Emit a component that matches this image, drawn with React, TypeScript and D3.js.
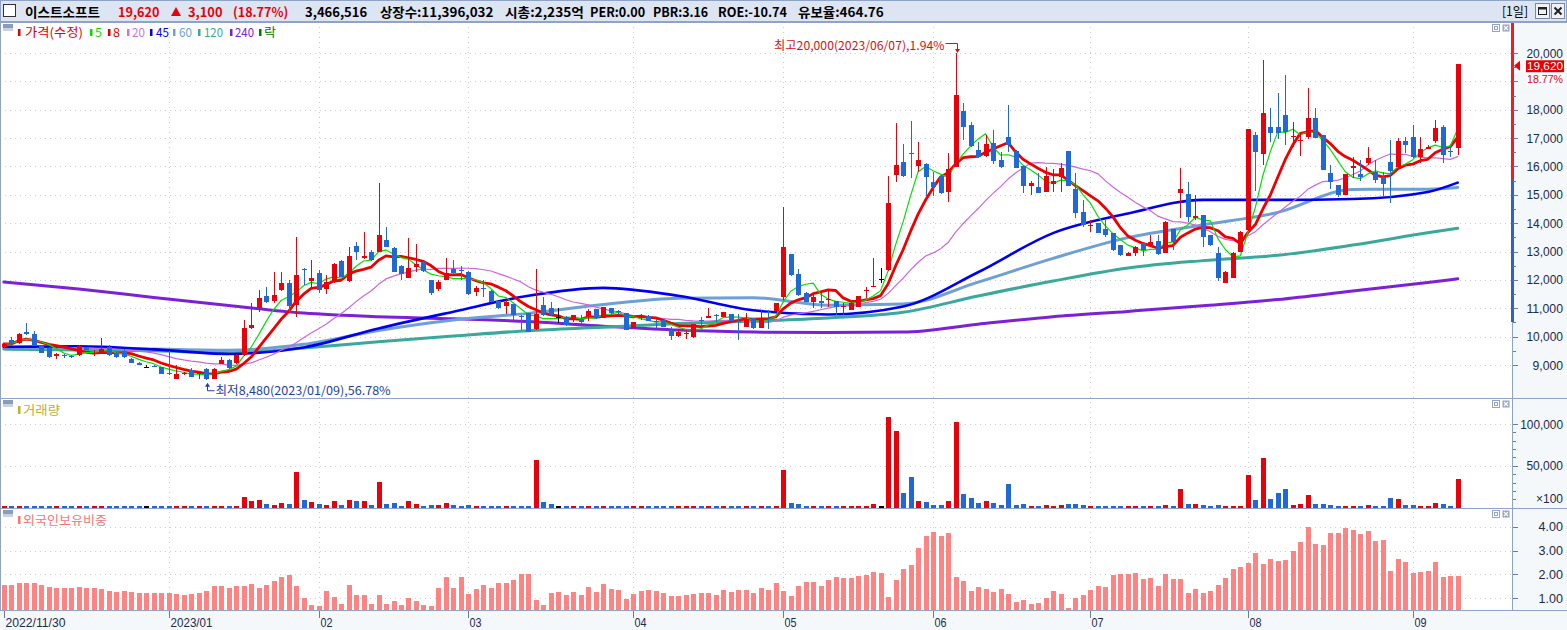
import * as d3 from "d3";

const W = 1567;
const H = 630;

// ---------- data ----------
const holidays = ["2022-12-30", "2023-01-23", "2023-01-24", "2023-03-01", "2023-05-01", "2023-05-05", "2023-05-29", "2023-06-06", "2023-08-15"];

// [open, high, low, close]
const ohlc: number[][] = [
  [9620, 9780, 9600, 9740], [9880, 9990, 9720, 9740], [9770, 10120, 9750, 10090], [10170, 10480, 10060, 10080], [10090, 10210, 9680, 9700],
  [9670, 9720, 9420, 9440], [9600, 9650, 9260, 9280], [9300, 9410, 9200, 9390], [9340, 9400, 9260, 9300], [9330, 9360, 9240, 9280],
  [9350, 9700, 9330, 9670], [9620, 9650, 9520, 9540], [9420, 9520, 9330, 9440], [9430, 9950, 9420, 9570], [9620, 9710, 9330, 9350],
  [9430, 9460, 9260, 9280], [9510, 9550, 9260, 9280], [9210, 9230, 9060, 9070], [9070, 9100, 9000, 9010], [8940, 9000, 8880, 8940],
  [8970, 9000, 8920, 8930], [8920, 8940, 8690, 8700], [8720, 9500, 8650, 8680], [8520, 8990, 8510, 8690], [8680, 8760, 8640, 8720],
  [8830, 8880, 8580, 8590], [8680, 8740, 8490, 8720], [8860, 8900, 8480, 8520], [8520, 8900, 8500, 8860], [9050, 9290, 9030, 9190],
  [9190, 9200, 8870, 8880], [9070, 9400, 9040, 9350], [9350, 10580, 9330, 10300], [10320, 11180, 10280, 10420], [11020, 11640, 10880, 11360],
  [11440, 11760, 11200, 11220], [11240, 12290, 11200, 11480], [11640, 12280, 11600, 11890], [11890, 12000, 10880, 11090], [11110, 13520, 10700, 12170],
  [12380, 12420, 11820, 12340], [11960, 12700, 11710, 12080], [12240, 12350, 11530, 11640], [11680, 12190, 11520, 11920], [11940, 12600, 11900, 12550],
  [12670, 12700, 12100, 12110], [11960, 13170, 11940, 12840], [13200, 13350, 12700, 12990], [12760, 13700, 12740, 12840], [12970, 13050, 12680, 12700],
  [12990, 15420, 12970, 13580], [13410, 13850, 13150, 13170], [13130, 13150, 12270, 12290], [12500, 12520, 12000, 12200], [12070, 13480, 12050, 12420],
  [12470, 13260, 12290, 12560], [12640, 12650, 12280, 12300], [11990, 12000, 11460, 11530], [11680, 11990, 11620, 11920], [12000, 12770, 11980, 12240],
  [12380, 12700, 12220, 12240], [12350, 12500, 12000, 12320], [12290, 12300, 11480, 11500], [11580, 11800, 11450, 11720], [11730, 12010, 11380, 11700],
  [11610, 11630, 11210, 11230], [11250, 11260, 10990, 11010], [11090, 11290, 10800, 11220], [11150, 11160, 10600, 10760], [10710, 10760, 10220, 10690],
  [10840, 10850, 10150, 10170], [10270, 12390, 10250, 10800], [11110, 11400, 10740, 10760], [11000, 11230, 10740, 10760], [10700, 11000, 10480, 10700],
  [10700, 10720, 10390, 10410], [10590, 10780, 10530, 10760], [10620, 10770, 10460, 10530], [10690, 10960, 10540, 10900], [10970, 10990, 10630, 10650],
  [10650, 11040, 10640, 11040], [11000, 11010, 10770, 10840], [10890, 10930, 10780, 10880], [10830, 10840, 10220, 10240], [10300, 10510, 10290, 10510],
  [10640, 10800, 10590, 10690], [10730, 10750, 10540, 10560], [10560, 10620, 10300, 10550], [10590, 10600, 10330, 10350], [10240, 10330, 9890, 10040],
  [10040, 10280, 9990, 10180], [10110, 10220, 9900, 10130], [10000, 10440, 9950, 10440], [10590, 10700, 10380, 10570], [10660, 11000, 10640, 10740],
  [10770, 10800, 10530, 10750], [10690, 10860, 10680, 10860], [10800, 10810, 10540, 10560], [10560, 10800, 9880, 10540], [10340, 10850, 10330, 10620],
  [10650, 10660, 10280, 10300], [10300, 10940, 10290, 10650], [10880, 10940, 10260, 10820], [10920, 11200, 10900, 11200], [11390, 14580, 11300, 13160],
  [12910, 12920, 12150, 12170], [12200, 12370, 11450, 11470], [11540, 11560, 11210, 11230], [11230, 11530, 11010, 11410], [11240, 11540, 11010, 11180],
  [11310, 11620, 11050, 11340], [11260, 11270, 10760, 11050], [11030, 11190, 10750, 11080], [10940, 11210, 10930, 11200], [11050, 11440, 11040, 11430],
  [11620, 11760, 11370, 11650], [11760, 12770, 11750, 11800], [12030, 12410, 11900, 12030], [12350, 15660, 12320, 14710], [15690, 17530, 15460, 16040],
  [16170, 16790, 15620, 15650], [16460, 17610, 15590, 16440], [16010, 16870, 15810, 16230], [16090, 16120, 14960, 15630], [15460, 15810, 14960, 15290],
  [15660, 15700, 15040, 15060], [15110, 16460, 14760, 15900], [15990, 20000, 15980, 18520], [17950, 18250, 16930, 17390], [17460, 17580, 16700, 16720],
  [16580, 16870, 16310, 16330], [16370, 17110, 16340, 16790], [16820, 17280, 16090, 16200], [16230, 16520, 15960, 15980], [17030, 18170, 16520, 16760],
  [16560, 16580, 15930, 15950], [16020, 16030, 15050, 15310], [15310, 15500, 14990, 15410], [15290, 15780, 15060, 15080], [15110, 15990, 15090, 15660],
  [15380, 15900, 15110, 15500], [15640, 16110, 15110, 15940], [16540, 16550, 15300, 15320], [15200, 15760, 14170, 14360], [14400, 14820, 13880, 13930],
  [13920, 14110, 13700, 13940], [14000, 14010, 13640, 13660], [13790, 14110, 13520, 13580], [13660, 13670, 13030, 13050], [13230, 13240, 12860, 12880],
  [12850, 12980, 12840, 12960], [12950, 13180, 12840, 13170], [13300, 13310, 12840, 13050], [13190, 13580, 13180, 13320], [13370, 13580, 12890, 12910],
  [12950, 14060, 12940, 14050], [13790, 13810, 13050, 13350], [15080, 15940, 14180, 15200], [15030, 15460, 14050, 14210], [14180, 14990, 14110, 14250],
  [14290, 14300, 13170, 13520], [13580, 13600, 13210, 13230], [12950, 13170, 11970, 12070], [11890, 12300, 11880, 12290], [12070, 12970, 12060, 12960],
  [12990, 13710, 12980, 13700], [13760, 17330, 13740, 17320], [17110, 17220, 15120, 16520], [16440, 19750, 16050, 17900], [17390, 18050, 16870, 17180],
  [17400, 18580, 16960, 17180], [17810, 19220, 16760, 17220], [17050, 17580, 16700, 17070], [16930, 17170, 16370, 16950], [17050, 18760, 16980, 17700],
  [17700, 18050, 16990, 17000], [17110, 17120, 15860, 15880], [15770, 16050, 15190, 15460], [15350, 15360, 14930, 15000], [15000, 15740, 14990, 15730],
  [15940, 16340, 15580, 16020], [15730, 16230, 15500, 15640], [16120, 16700, 16050, 16300], [15790, 16220, 15430, 15520], [15620, 15810, 14930, 15380],
  [16170, 16930, 14720, 15850], [15990, 16990, 15980, 16880], [16880, 17030, 16460, 16760], [17040, 17460, 16310, 16330], [16330, 17030, 16130, 16610],
  [16610, 16760, 16600, 16700], [16900, 17640, 16820, 17350], [17390, 17450, 16110, 16400], [16560, 16720, 16330, 16520], [16640, 19620, 16400, 19620],
];

const todayVolume = 3466516;

// volume, x100 shares
const volume = [
  1000, 1200, 1300, 1100, 1200, 900, 1000, 800, 900, 800, 1100, 900, 800, 1200, 1000, 900, 1000, 900, 800, 1000, 900, 1000, 1300, 1400, 1100, 1000,
  2000, 2000, 2000, 1200, 1200, 2000,
  12800, 8000, 9200, 4400, 3200, 5600, 4400, 42800,
  9200, 6800, 4400, 3200, 8000, 3200, 9200, 8000, 8000, 3200,
  30800, 4400, 5600, 2000, 8000, 4400, 2000, 3200, 3200, 5600,
  3200, 2000, 3200, 1000, 1100, 1000, 1200, 1000, 1100, 1200,
  1300, 57200, 6800, 4400, 2000, 2000, 1200, 1000, 1100, 1000,
  1100, 1000, 1100, 2000, 1200, 1000, 1100, 1000, 900, 1000,
  1100, 1000, 900, 1000, 1100, 900, 1000, 1000, 1200, 1000,
  1100, 1300, 1100, 2000, 45200, 5600, 4400, 2000, 1200, 1200,
  2000, 1000, 1000, 1000, 1000, 1200, 4400, 2000, 108800, 92000,
  17600, 36800, 8000, 6800, 3200, 3200, 8000, 102800, 16400, 11600,
  5600, 8000, 5600, 3200, 28400, 3200, 4400, 2000, 2000, 3200,
  2000, 3200, 4400, 4400, 3200, 1000, 1000, 2000, 2000, 1200,
  1000, 1200, 1200, 1200, 1200, 3200, 1200, 22400, 4400, 4400,
  3200, 1200, 3200, 1200, 2000, 2000, 39200, 9200, 59600, 10400,
  17600, 22400, 3200, 4400, 15200, 4400, 4400, 3200, 2000, 2000,
  2000, 1200, 3200, 2000, 1200, 11600, 10400, 3200, 3200, 2000,
  1200, 5600, 4400, 1000, todayVolume / 100,
];

// foreign ownership ratio, %
const foreignRatio = [
  1.56, 1.56, 1.64, 1.64, 1.64, 1.56, 1.47, 1.43, 1.43, 1.43,
  1.47, 1.43, 1.43, 1.39, 1.31, 1.27, 1.31, 1.27, 1.22, 1.22,
  1.22, 1.22, 1.22, 1.18, 1.14, 1.18, 1.22, 1.31, 1.52, 1.52,
  1.43, 1.52, 1.52, 1.60, 1.43, 1.56, 1.73, 1.90, 1.98, 1.52,
  1.01, 0.72, 0.68, 1.31, 1.06, 0.77, 1.56, 1.14, 1.14, 0.77,
  1.14, 0.77, 0.89, 0.72, 1.01, 0.89, 0.72, 0.68, 1.43, 1.90,
  1.43, 1.90, 1.18, 1.39, 1.56, 1.43, 1.64, 1.64, 1.77, 2.02,
  2.02, 0.93, 0.72, 1.22, 1.27, 1.14, 1.27, 1.14, 1.47, 1.27,
  1.60, 1.39, 1.35, 0.97, 1.18, 1.31, 1.35, 1.31, 1.22, 1.10,
  1.10, 1.14, 1.18, 1.22, 1.22, 1.14, 1.35, 1.27,
  1.35, 1.35, 1.22, 1.43, 1.35, 1.64, 1.31, 1.10, 1.52, 1.68,
  1.68, 1.52, 1.77, 1.89, 1.85, 1.85, 1.93, 1.97, 2.10, 2.06,
  1.06, 1.77, 2.23, 2.40, 3.11, 3.61, 3.78, 3.61, 3.74, 1.89,
  1.72, 1.31, 1.47, 1.39, 1.27, 1.39, 1.18, 0.85, 0.93, 0.76,
  0.81, 1.02, 1.31, 1.18, 0.59, 1.02, 1.14, 1.35, 1.52, 1.47,
  1.97, 2.02, 2.02, 2.06, 1.81, 1.85, 1.52, 2.02, 1.81, 1.81,
  1.22, 1.39, 1.22, 1.31, 1.56, 1.85, 2.23, 2.31, 2.48, 2.90,
  2.44, 2.65, 2.58, 2.61, 2.98, 3.36, 3.99, 3.27, 3.23, 3.74,
  3.74, 3.95, 3.86, 3.69, 3.82, 3.40, 3.44, 2.15, 2.65, 2.52,
  2.06, 2.10, 2.15, 2.52, 1.89, 1.93, 1.93,
];

// long moving averages at these candle indices
const maSampleIdx = [0, 10, 20, 30, 40, 50, 60, 70, 80, 90, 100, 110, 120, 130, 140, 150, 160, 170, 180, 190, 194];
const ma45 = [9640, 9660, 9550, 9390, 9620, 10290, 10880, 11440, 11720, 11440, 10930, 10780, 11060, 12270, 13650, 14340, 14820, 14820, 14850, 15100, 15430];
const ma60 = [9620, 9600, 9560, 9520, 9730, 10220, 10590, 10820, 11130, 11350, 11370, 11110, 11150, 11920, 12760, 13490, 13940, 14380, 15190, 15200, 15260];
const ma120 = [9560, 9530, 9500, 9430, 9600, 9820, 10020, 10210, 10330, 10460, 10550, 10660, 10860, 11430, 11960, 12420, 12680, 12870, 13230, 13660, 13820];
const ma240 = [11930, 11680, 11380, 11100, 10830, 10700, 10630, 10530, 10370, 10230, 10160, 10150, 10160, 10440, 10700, 10890, 11090, 11310, 11610, 11910, 12040];

// price-band marker on the right edge of the price panel
const bandRedFrom = 15520;
const bandBlueFrom = 10510;

const headerStats = ["3,466,516", "상장수:11,396,032", "시총:2,235억", "PER:0.00", "PBR:3.16", "ROE:-10.74", "유보율:464.76"];
const headerStatX = [305, 380, 505, 590, 653, 718, 798];

const priceTicks = d3.range(9000, 20001, 1000);
const volTicks = [50000, 100000];
const frnTicks = [1, 2, 3, 4];

// ---------- style ----------
const RED = "#e8000b";
const BLUE = "#1f68d6";
const BORDER = "#8ea3c6";
const GRID = "#c5cdd8";
const AXIS_TXT = "#1c2a4e";
const KR = "'Noto Sans CJK KR', 'Noto Sans', sans-serif";
const NUM = "'Liberation Sans', 'DejaVu Sans', sans-serif";

const legend = [
  { bx: 18, tx: 25, t: "가격(수정)", c: "#e00000", w: 58 },
  { bx: 90, tx: 95, t: "5", c: "#00dd00", w: 7 },
  { bx: 108, tx: 113, t: "8", c: "#e00000", w: 7 },
  { bx: 127, tx: 132, t: "20", c: "#cc77dd", w: 13 },
  { bx: 150, tx: 156, t: "45", c: "#0000ee", w: 13 },
  { bx: 173, tx: 179, t: "60", c: "#6e9fd5", w: 13 },
  { bx: 198, tx: 204, t: "120", c: "#3aa99b", w: 19 },
  { bx: 230, tx: 235, t: "240", c: "#7b22d6", w: 19 },
  { bx: 259, tx: 264, t: "락", c: "#007a00", w: 12 },
];

const PX = 1512;
const MAIN_T = 22, MAIN_B = 398, VOL_B = 508, FRN_B = 610;

const tw = (s: string, k: number, a: number) =>
  Array.from(s).reduce((w, ch) => w + (ch.charCodeAt(0) > 0x2e80 ? k : a), 0);

function buildDates(n: number) {
  const out: Date[] = [];
  const d = new Date(2022, 10, 30);
  const key = d3.timeFormat("%Y-%m-%d");
  while (out.length < n) {
    const wd = d.getDay();
    if (wd !== 0 && wd !== 6 && !holidays.includes(key(d))) out.push(new Date(d));
    d.setDate(d.getDate() + 1);
  }
  return out;
}

const PanelIcons = ({ y }: { y: number }) => (
  <g>
    <rect x={3} y={y + 2} width={10} height={4} fill="#8a9cba" />
    <rect x={3} y={y + 6} width={10} height={3} fill="#c9d2e2" />
    <rect x={1492.5} y={y + 2.5} width={7} height={7} fill="#fff" stroke="#95a4c2" />
    <rect x={1494.5} y={y + 4.5} width={3} height={3} fill="none" stroke="#95a4c2" />
    <rect x={1502.5} y={y + 2.5} width={7} height={7} fill="#95a4c2" />
    <path d={`M1504,${y + 4} l4,4 M1508,${y + 4} l-4,4`} stroke="#fff" strokeWidth={1.2} />
  </g>
);

export default function App() {
  const N = ohlc.length;
  const closes = ohlc.map((d) => d[3]);
  const dates = buildDates(N);

  const x = d3.scaleLinear().domain([0, N - 1]).range([3.8, 1457.7]);
  const y = d3.scaleLinear().domain([9000, 20000]).range([365, 53]);
  const vy = d3.scaleLinear().domain([0, 100000]).range([507.7, 424]);
  const fy = d3.scaleLinear().domain([1, 4]).range([598.3, 526.7]);

  const sma = (n: number) =>
    closes.map((_, i) => d3.mean(closes.slice(Math.max(0, i - n + 1), i + 1)) as number);
  const lineAll = d3.line<number>().x((_, i) => x(i)).y((v) => y(v));
  const lineSampled = d3
    .line<number>()
    .x((_, k) => x(maSampleIdx[k]))
    .y((v) => y(v))
    .curve(d3.curveMonotoneX);

  const colorOf = (d: number[]) => (d[3] > d[0] ? RED : d[3] < d[0] ? BLUE : "#000");

  const fmt = d3.format(",");
  const fmtDay = d3.timeFormat("%Y/%m/%d");
  // first candle, then the first trading day of each later month (a month starting
  // right after the first candle gets no separate label)
  const ticks = dates
    .map((d, i) => ({ d, i }))
    .filter(({ d, i }) => i === 0 || (i > 5 && d.getMonth() !== dates[i - 1].getMonth()));
  const tickLabel = (k: number) => {
    const { d } = ticks[k];
    if (k === 0) return fmtDay(d);
    if (d.getFullYear() !== ticks[k - 1].d.getFullYear()) return d3.timeFormat("%Y/%m")(d);
    return d3.timeFormat("%m")(d);
  };

  const last = closes[N - 1];
  const prev = closes[N - 2];
  const chg = last - prev;
  const chgPct = (chg / prev) * 100;
  const hiI = d3.maxIndex(ohlc, (d) => d[1]);
  const loI = d3.minIndex(ohlc, (d) => d[2]);
  const hi = ohlc[hiI][1];
  const lo = ohlc[loI][2];
  const hiText = `최고${fmt(hi)}(${fmtDay(dates[hiI])}),${(((hi - last) / last) * 100).toFixed(2)}%`;
  const loText = `최저${fmt(lo)}(${fmtDay(dates[loI])}),${(((last - lo) / last) * 100).toFixed(2)}%`;

  const header = [
    { t: "이스트소프트", x: 25, c: "#000" },
    { t: fmt(last), x: 118, c: RED },
    { t: fmt(chg), x: 188, c: RED },
    { t: `(${chgPct.toFixed(2)}%)`, x: 233, c: RED },
    ...headerStats.map((t, k) => ({ t, x: headerStatX[k], c: "#000" })),
  ];

  const maLines = [
    { d: lineSampled(ma240), c: "#7b22d6", w: 3 },
    { d: lineSampled(ma120), c: "#3aa99b", w: 3 },
    { d: lineSampled(ma60), c: "#6e9fd5", w: 3 },
    { d: lineSampled(ma45), c: "#0000ee", w: 2.6 },
    { d: lineAll(sma(20)), c: "#cc66dd", w: 1.2 },
    { d: lineAll(sma(8)), c: "#ee0000", w: 2.8 },
    { d: lineAll(sma(5)), c: "#00e000", w: 1.2 },
  ];

  const xh = Math.round(x(hiI)) + 0.5;
  const yh = y(hi);
  const xl = Math.round(x(loI)) + 0.5;
  const yl = y(lo);
  const yLast = y(last);

  const numLen = (s: string) => s.length * 6.1;
  // price labels hidden behind the current-price boxes
  const visiblePriceTicks = priceTicks.filter((v) => y(v) < yLast - 9 || y(v) > yLast + 25);

  return (
    <svg
      width={W}
      height={H}
      viewBox={`0 0 ${W} ${H}`}
      style={{ position: "fixed", left: 0, top: 0, background: "#fff" }}
    >
      <defs>
        <clipPath id="mainClip">
          <rect x={0} y={MAIN_T + 1} width={PX} height={MAIN_B - MAIN_T - 1} />
        </clipPath>
      </defs>

      {/* backgrounds */}
      <rect x={0} y={0} width={W} height={H} fill="#fff" />
      <rect x={PX} y={MAIN_T} width={W - PX} height={FRN_B - MAIN_T} fill="#f4f8fb" />
      <rect x={0} y={FRN_B} width={W} height={H - FRN_B} fill="#f4f8fb" />

      {/* header */}
      <rect x={0.5} y={0.5} width={W - 1} height={MAIN_T - 1} fill="#dde4f2" stroke={BORDER} />
      <rect x={3.5} y={4.5} width={12} height={12} fill="#fff" stroke="#333" />
      {header.map((h, k) => (
        <text
          key={k}
          x={h.x}
          y={16.5}
          fill={h.c}
          fontFamily={KR}
          fontWeight="bold"
          fontSize={13}
          textLength={tw(h.t, 12.5, 6.9)}
          lengthAdjust="spacingAndGlyphs"
        >
          {h.t}
        </text>
      ))}
      <path d="M171,16 L176,7 L181,16 Z" fill={RED} />
      <text x={1502} y={16} fontFamily={KR} fontSize={13} fill="#000" textLength={26} lengthAdjust="spacingAndGlyphs">
        [1일]
      </text>
      <rect x={1535.5} y={3.5} width={14} height={15} fill="#eef1f7" stroke="#7d8899" />
      <rect x={1538.5} y={7.5} width={8} height={7} fill="none" stroke="#222" />
      <rect x={1538.5} y={7.5} width={8} height={2} fill="#222" />
      <rect x={1551.5} y={3.5} width={13} height={15} fill="#eef1f7" stroke="#7d8899" />
      <path d="M1554.5,7.5 l7,7 M1561.5,7.5 l-7,7" stroke="#222" strokeWidth={2} />

      {/* grids */}
      <g stroke={GRID} strokeDasharray="1,4" strokeWidth={1}>
        {priceTicks.map((v) => (
          <line key={v} x1={0} x2={PX} y1={Math.round(y(v)) + 0.5} y2={Math.round(y(v)) + 0.5} />
        ))}
        {volTicks.map((v) => (
          <line key={v} x1={0} x2={PX} y1={Math.round(vy(v)) + 0.5} y2={Math.round(vy(v)) + 0.5} />
        ))}
        {frnTicks.map((v) => (
          <line key={v} x1={0} x2={PX} y1={Math.round(fy(v)) + 0.5} y2={Math.round(fy(v)) + 0.5} />
        ))}
        {ticks.slice(1).map(({ i }) => (
          <line key={i} x1={Math.round(x(i)) + 0.5} x2={Math.round(x(i)) + 0.5} y1={MAIN_T} y2={FRN_B} />
        ))}
      </g>

      {/* legend */}
      <PanelIcons y={MAIN_T} />
      {legend.map((l) => (
        <g key={l.t}>
          <rect x={l.bx} y={29} width={2.5} height={7} fill={l.c} />
          <text
            x={l.tx}
            y={37}
            fill={l.c}
            fontFamily={KR}
            fontSize={12.5}
            textLength={l.w}
            lengthAdjust="spacingAndGlyphs"
          >
            {l.t}
          </text>
        </g>
      ))}

      {/* moving averages */}
      <g clipPath="url(#mainClip)" fill="none" strokeLinejoin="round" strokeLinecap="round">
        {maLines.map((m, k) => (
          <path key={k} d={m.d ?? ""} stroke={m.c} strokeWidth={m.w} />
        ))}
      </g>

      {/* candles */}
      <g shapeRendering="crispEdges">
        {ohlc.map((d, i) => {
          const cx = Math.round(x(i));
          const c = colorOf(d);
          const top = y(Math.max(d[0], d[3]));
          const bot = y(Math.min(d[0], d[3]));
          return (
            <g key={i} fill={c}>
              <rect x={cx} y={y(d[1])} width={1} height={Math.max(1, y(d[2]) - y(d[1]))} />
              <rect x={cx - 2} y={top} width={5} height={Math.max(1, bot - top)} />
            </g>
          );
        })}
      </g>

      {/* high / low annotations */}
      <text
        x={xh - 12}
        y={yh - 3}
        textAnchor="end"
        fill="#d81010"
        fontFamily={KR}
        fontSize={12}
        textLength={tw(hiText, 12, 6.1)}
        lengthAdjust="spacingAndGlyphs"
      >
        {hiText}
      </text>
      <path d={`M${xh - 11},${yh - 9.5} H${xh + 1} V${yh - 3}`} stroke="#d81010" fill="none" />
      <path d={`M${xh - 1.5},${yh - 4} L${xh + 3.5},${yh - 4} L${xh + 1},${yh} Z`} fill="#d81010" />

      <path d={`M${xl + 1},${yl + 6} V${yl + 11} H${xl + 8}`} stroke="#1d3f9e" fill="none" />
      <path d={`M${xl - 1.5},${yl + 7} L${xl + 3.5},${yl + 7} L${xl + 1},${yl + 3} Z`} fill="#1d3f9e" />
      <text
        x={xl + 9}
        y={yl + 15}
        fill="#1d3f9e"
        fontFamily={KR}
        fontSize={12}
        textLength={tw(loText, 12, 6.3)}
        lengthAdjust="spacingAndGlyphs"
      >
        {loText}
      </text>

      {/* volume panel */}
      <PanelIcons y={MAIN_B} />
      <rect x={18} y={406} width={2.5} height={8} fill="#c0ae38" />
      <text x={23} y={415} fill="#c0ae38" fontFamily={KR} fontSize={12.5} textLength={37} lengthAdjust="spacingAndGlyphs">
        거래량
      </text>
      <g shapeRendering="crispEdges">
        {volume.map((v, i) => {
          const cx = Math.round(x(i));
          const top = Math.min(vy(v), vy(0) - 1.5);
          return <rect key={i} x={cx - 2} y={top} width={5} height={vy(0) - top} fill={colorOf(ohlc[i])} />;
        })}
      </g>

      {/* foreign ownership panel */}
      <PanelIcons y={VOL_B} />
      <rect x={18} y={516} width={2.5} height={8} fill="#f07878" />
      <text x={23} y={525} fill="#f07878" fontFamily={KR} fontSize={12.5} textLength={84} lengthAdjust="spacingAndGlyphs">
        외국인보유비중
      </text>
      <g shapeRendering="crispEdges">
        {foreignRatio.map((v, i) => {
          const cx = Math.round(x(i));
          return <rect key={i} x={cx - 2} y={fy(v)} width={5} height={FRN_B - fy(v)} fill="#ff8383" />;
        })}
      </g>

      {/* frame */}
      <g stroke={BORDER} strokeWidth={1} shapeRendering="crispEdges">
        <line x1={0} x2={W} y1={MAIN_T + 0.5} y2={MAIN_T + 0.5} />
        <line x1={0} x2={W} y1={MAIN_B + 0.5} y2={MAIN_B + 0.5} />
        <line x1={0} x2={W} y1={VOL_B + 0.5} y2={VOL_B + 0.5} />
        <line x1={0} x2={W} y1={FRN_B + 0.5} y2={FRN_B + 0.5} />
        <line x1={0.5} x2={0.5} y1={MAIN_T} y2={FRN_B} />
        <line x1={PX + 0.5} x2={PX + 0.5} y1={MAIN_T} y2={FRN_B} />
      </g>

      {/* price band marker */}
      <g shapeRendering="crispEdges">
        <rect x={PX - 1} y={MAIN_T + 1} width={3} height={y(bandRedFrom) - MAIN_T - 1} fill="#ee1c24" />
        <rect x={PX - 1} y={y(bandRedFrom)} width={3} height={y(bandBlueFrom) - y(bandRedFrom)} fill="#2f62c8" />
      </g>

      {/* right axes */}
      <g stroke="#6b7d9c" shapeRendering="crispEdges">
        {d3.range(9000, 20001, 500).map((v) => (
          <line key={v} x1={PX + 1} x2={PX + (v % 1000 === 0 ? 6 : 4)} y1={Math.round(y(v)) + 0.5} y2={Math.round(y(v)) + 0.5} />
        ))}
        {d3.range(10000, 100001, 10000).map((v) => (
          <line key={v} x1={PX + 1} x2={PX + (v % 50000 === 0 ? 6 : 4)} y1={Math.round(vy(v)) + 0.5} y2={Math.round(vy(v)) + 0.5} />
        ))}
        {frnTicks.map((v) => (
          <line key={v} x1={PX + 1} x2={PX + 6} y1={Math.round(fy(v)) + 0.5} y2={Math.round(fy(v)) + 0.5} />
        ))}
      </g>
      <g fill={AXIS_TXT} fontFamily={NUM} fontSize={12.5}>
        {visiblePriceTicks.map((v) => (
          <text key={v} x={1563} y={y(v) + 4.5} textAnchor="end" textLength={numLen(fmt(v))} lengthAdjust="spacingAndGlyphs">
            {fmt(v)}
          </text>
        ))}
        {volTicks.map((v) => (
          <text key={v} x={1563} y={vy(v) + 4.5} textAnchor="end" textLength={numLen(fmt(v))} lengthAdjust="spacingAndGlyphs">
            {fmt(v)}
          </text>
        ))}
        <text x={1563} y={503} textAnchor="end" textLength={27} lengthAdjust="spacingAndGlyphs">
          ×100
        </text>
        {frnTicks.map((v) => (
          <text key={v} x={1563} y={fy(v) + 4.5} textAnchor="end" textLength={numLen(v.toFixed(2))} lengthAdjust="spacingAndGlyphs">
            {v.toFixed(2)}
          </text>
        ))}
      </g>

      {/* current price marker */}
      <path d={`M${PX + 2},${yLast + 2} L${PX + 8},${yLast - 3} L${PX + 8},${yLast + 7} Z`} fill={RED} />
      <rect x={1526} y={yLast - 3.5} width={38} height={12} fill="#e60000" />
      <text x={1563} y={yLast + 6.5} textAnchor="end" fill="#fff" fontFamily={NUM} fontSize={11} textLength={36} lengthAdjust="spacingAndGlyphs">
        {fmt(last)}
      </text>
      <rect x={1526} y={yLast + 9} width={38} height={12} fill="#fff" />
      <text x={1563} y={yLast + 19.2} textAnchor="end" fill="#e60000" fontFamily={NUM} fontSize={11} textLength={36} lengthAdjust="spacingAndGlyphs">
        {`${chgPct.toFixed(2)}%`}
      </text>

      {/* date axis */}
      {ticks.map(({ i }, k) => {
        const tx = Math.round(x(i)) + 0.5;
        const lab = tickLabel(k);
        return (
          <g key={i}>
            <line x1={tx} x2={tx} y1={FRN_B + 1} y2={FRN_B + 8} stroke="#6b7d9c" />
            <text
              x={tx + 1}
              y={627}
              fill={AXIS_TXT}
              fontFamily={NUM}
              fontSize={13}
              textLength={lab.length * 6}
              lengthAdjust="spacingAndGlyphs"
            >
              {lab}
            </text>
          </g>
        );
      })}
    </svg>
  );
}
